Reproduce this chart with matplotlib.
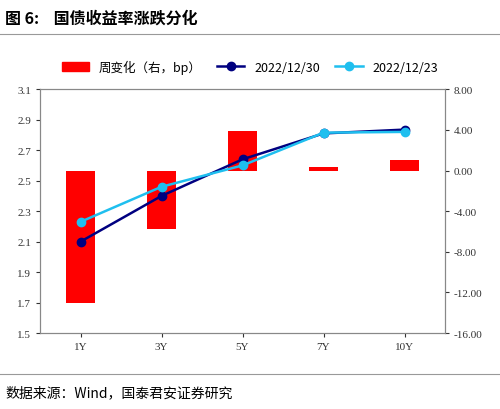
import matplotlib
matplotlib.use("Agg")
import matplotlib.pyplot as plt
from matplotlib.lines import Line2D

plt.rcParams['font.family'] = ['Noto Sans CJK SC', 'DejaVu Sans']

cats = ["1Y", "3Y", "5Y", "7Y", "10Y"]
chg = [-13.0, -5.8, 3.9, 0.3, 1.0]
y1230 = [2.10, 2.40, 2.64, 2.81, 2.835]
y1223 = [2.23, 2.46, 2.60, 2.815, 2.82]

fig = plt.figure(figsize=(5.0, 4.1), dpi=100)
ax = fig.add_axes([0.08, 0.185, 0.81, 0.595])
ax2 = ax.twinx()
x = range(len(cats))
ax2.bar(x, chg, width=0.35, color="#ff0000", zorder=1)
ax.set_zorder(ax2.get_zorder() + 1)
ax.patch.set_visible(False)
ax.plot(x, y1230, color="#000080", marker="o", ms=6, lw=1.8)
ax.plot(x, y1223, color="#1fbfef", marker="o", ms=6, lw=1.8)
ax.set_ylim(1.5, 3.1)
ax.set_yticks([1.5 + 0.2 * i for i in range(9)])
ax.set_yticklabels([f"{1.5 + 0.2 * i:.1f}" for i in range(9)])
ax2.set_ylim(-16, 8)
ax2.set_yticks(range(-16, 9, 4))
ax2.set_yticklabels([f"{v:.2f}" for v in range(-16, 9, 4)])
ax.set_xticks(list(x))
ax.set_xticklabels(cats)
ax.set_xlim(-0.5, 4.5)
for a in (ax, ax2):
    a.tick_params(labelsize=8, length=3, direction="out", colors="#333333")
    for s in a.spines.values():
        s.set_color("#888888")
for lab in ax.get_xticklabels() + ax.get_yticklabels() + ax2.get_yticklabels():
    lab.set_family(["Liberation Serif", "DejaVu Serif"])

handles = [plt.Rectangle((0, 0), 1, 1, color="#ff0000"),
           Line2D([], [], color="#000080", marker="o", ms=6, lw=1.8),
           Line2D([], [], color="#1fbfef", marker="o", ms=6, lw=1.8)]
fig.legend(handles, ["周变化（右，bp）", "2022/12/30", "2022/12/23"], loc="center",
           bbox_to_anchor=(0.5, 0.835), ncol=3, frameon=False, fontsize=9,
           handlelength=2.2, columnspacing=1.2)

fig.text(0.01, 0.955, "图 6:    国债收益率涨跌分化", fontsize=11.5, fontweight="bold", va="center")
fig.add_artist(Line2D([0.0, 1.0], [0.915, 0.915], color="#999999", lw=0.8))
fig.add_artist(Line2D([0.0, 1.0], [0.085, 0.085], color="#999999", lw=0.8))
fig.text(0.01, 0.04, "数据来源：Wind，国泰君安证券研究", fontsize=10, va="center")
fig.savefig("out.png", dpi=100)
